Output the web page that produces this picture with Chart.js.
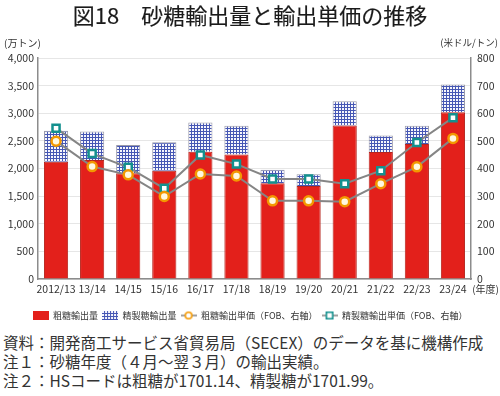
<!DOCTYPE html>
<html>
<head>
<meta charset="utf-8">
<script src="https://cdn.jsdelivr.net/npm/chart.js@4"></script>
<style>
  body { margin: 0; width: 500px; height: 396px; background: #fff; position: relative; overflow: hidden;
         font-family: "Noto Sans CJK JP", "Noto Sans", sans-serif; color: #333; }
  #title { position: absolute; top: 0; left: 0; width: 500px; text-align: center; font-size: 22px; line-height: 28px; color: #1a1a1a; -webkit-text-stroke: 0.15px #1a1a1a; }
  .unit { position: absolute; font-size: 10px; color: #333; white-space: nowrap; }
  #wrap { position: absolute; left: 0; top: 0; width: 500px; height: 330px; }
  .note { position: absolute; left: 3px; font-size: 15.5px; line-height: 19px; color: #333; white-space: nowrap; }
</style>
</head>
<body>
<div id="wrap"><canvas id="sugarChart"></canvas></div>
<div id="title">図18　砂糖輸出量と輸出単価の推移</div>
<div class="unit" style="left:4px; top:35px;">(万トン)</div>
<div class="unit" style="right:2px; top:35px; font-size:9.5px;">(米ドル/トン)</div>
<div class="unit" style="right:1px; top:281px;">(年度)</div>
<div class="note" style="top:333px;">資料：開発商工サービス省貿易局（SECEX）のデータを基に機構作成</div>
<div class="note" style="top:352px;">注１：砂糖年度（４月～翌３月）の輸出実績。</div>
<div class="note" style="top:371px;">注２：HSコードは粗糖が1701.14、精製糖が1701.99。</div>
<script>
// Data
const years = ["2012/13", "13/14", "14/15", "15/16", "16/17", "17/18", "18/19", "19/20", "20/21", "21/22", "22/23", "23/24"];
// export volume (10k tons)
const rawVolume = [2122, 2153, 1916, 1958, 2305, 2255, 1734, 1684, 2779, 2299, 2445, 3016];
const refinedVolume = [560, 517, 511, 516, 529, 519, 242, 214, 438, 298, 329, 506];
// unit price (USD/ton, FOB)
const rawPrice = [499, 407, 377, 299, 380, 373, 283, 283, 280, 345, 406, 509];
const refinedPrice = [546, 454, 404, 328, 449, 416, 362, 362, 345, 392, 494, 584];

const leftTicks = [0, 500, 1000, 1500, 2000, 2500, 3000, 3500, 4000];
const rightTicks = [0, 100, 200, 300, 400, 500, 600, 700, 800];

const RED = "#e3201b";
const FONT = '"Noto Sans CJK JP", "Noto Sans", sans-serif';

// grid pattern for refined sugar bars
function makeHatch() {
  const c = document.createElement("canvas");
  c.width = 3;
  c.height = 3;
  const g = c.getContext("2d");
  g.fillStyle = "#f6f6fc";
  g.fillRect(0, 0, 3, 3);
  g.fillStyle = "#4657b4";
  g.fillRect(2, 0, 1, 3);
  g.fillRect(0, 2, 3, 1);
  return c;
}
const hatchCanvas = makeHatch();
const hatch = document.createElement("canvas").getContext("2d").createPattern(hatchCanvas, "repeat");

// legend icons
function boxIcon(fill) {
  const c = document.createElement("canvas");
  c.width = 16;
  c.height = 9;
  const g = c.getContext("2d");
  g.fillStyle = fill;
  g.fillRect(0, 0, 16, 9);
  return c;
}
function lineIcon(kind, color) {
  const c = document.createElement("canvas");
  c.width = 16;
  c.height = 10;
  const g = c.getContext("2d");
  g.strokeStyle = "#808080";
  g.lineWidth = 1.5;
  g.beginPath();
  g.moveTo(0, 5);
  g.lineTo(16, 5);
  g.stroke();
  g.fillStyle = "#fff";
  g.strokeStyle = color;
  g.lineWidth = 1.6;
  g.beginPath();
  if (kind === "circle") g.arc(8, 5, 3.3, 0, Math.PI * 2);
  else g.rect(4.8, 1.8, 6.4, 6.4);
  g.fill();
  g.stroke();
  return c;
}
const redBoxIcon = boxIcon(RED);
const hatchBoxIcon = boxIcon(document.createElement("canvas").getContext("2d").createPattern(hatchCanvas, "repeat"));
const circleIcon = lineIcon("circle", "#f39800");
const squareIcon = lineIcon("square", "#13908e");
const icons = [redBoxIcon, hatchBoxIcon, circleIcon, squareIcon];

const ctx = document.getElementById("sugarChart").getContext("2d");
new Chart(ctx, {
  type: "bar",
  data: {
    labels: years,
    datasets: [
      {
        label: "粗糖輸出量",
        data: rawVolume,
        backgroundColor: RED,
        borderColor: "#b5241d",
        borderWidth: 1,
        yAxisID: "y",
        stack: "vol",
        order: 2,
      },
      {
        label: "精製糖輸出量",
        data: refinedVolume,
        backgroundColor: hatch,
        borderColor: "#9a9aa8",
        borderWidth: 1,
        yAxisID: "y",
        stack: "vol",
        order: 2,
      },
      {
        type: "line",
        label: "粗糖輸出単価（FOB、右軸）",
        data: rawPrice,
        yAxisID: "y1",
        borderColor: "#858585",
        borderWidth: 2,
        pointStyle: "circle",
        pointRadius: 4.5,
        pointBorderWidth: 2.5,
        pointBackgroundColor: "#fff8e0",
        pointBorderColor: "#f39800",
        order: 0,
      },
      {
        type: "line",
        label: "精製糖輸出単価（FOB、右軸）",
        data: refinedPrice,
        yAxisID: "y1",
        borderColor: "#858585",
        borderWidth: 2,
        pointStyle: "rect",
        pointRadius: 5,
        pointBorderWidth: 2.5,
        pointBackgroundColor: "#fff",
        pointBorderColor: "#13908e",
        order: 0,
      },
    ],
  },
  options: {
    responsive: true,
    maintainAspectRatio: false,
    animation: false,
    barPercentage: 0.67,
    categoryPercentage: 1,
    layout: {
      padding: { top: 58, left: 0, right: 0, bottom: 0 },
    },
    plugins: {
      legend: {
        position: "bottom",
        labels: {
          usePointStyle: true,
          pointStyleWidth: 16,
          boxHeight: 10,
          padding: 4,
          color: "#333",
          font: { family: FONT, size: 9 },
          generateLabels: function (chart) {
            return chart.data.datasets.map((ds, i) => ({
              text: ds.label,
              pointStyle: icons[i],
              fillStyle: "transparent",
              strokeStyle: "transparent",
              lineWidth: 0,
              hidden: false,
              datasetIndex: i,
              fontColor: "#333",
            }));
          },
        },
      },
      tooltip: { enabled: false },
    },
    scales: {
      x: {
        stacked: true,
        grid: { display: false, drawTicks: false },
        border: { color: "#8c8c8c", width: 1.5 },
        ticks: { color: "#333", font: { family: FONT, size: 10.5 }, padding: 4, maxRotation: 0, autoSkip: false },
        afterFit: function (scale) {
          scale.height = 28;
        },
      },
      y: {
        stacked: true,
        position: "left",
        min: 0,
        max: 4000,
        afterBuildTicks: function (scale) {
          scale.ticks = leftTicks.map((v) => ({ value: v }));
        },
        ticks: {
          color: "#333",
          font: { family: FONT, size: 10.5 },
          padding: 4,
          callback: (v) => v.toLocaleString("en-US"),
        },
        grid: { color: "#e6e6e6", drawTicks: false },
        border: { color: "#8c8c8c", width: 1.5 },
        afterFit: function (scale) {
          scale.width = 38;
        },
      },
      y1: {
        position: "right",
        min: 0,
        max: 800,
        afterBuildTicks: function (scale) {
          scale.ticks = rightTicks.map((v) => ({ value: v }));
        },
        ticks: {
          color: "#333",
          font: { family: FONT, size: 10.5 },
          padding: 6,
        },
        grid: { display: false, drawTicks: false },
        border: { color: "#8c8c8c", width: 1.5 },
        afterFit: function (scale) {
          scale.width = 29;
        },
      },
    },
  },
});
</script>
</body>
</html>
